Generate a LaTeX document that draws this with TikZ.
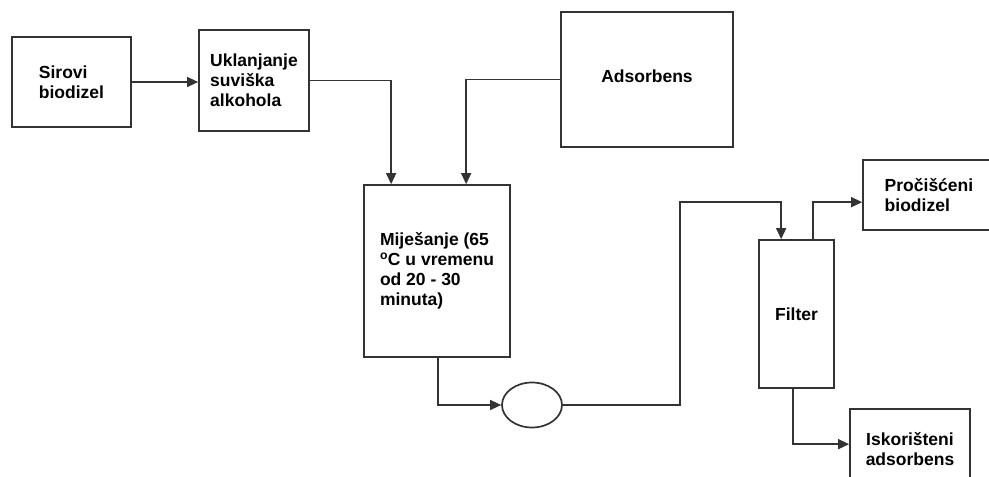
\documentclass[tikz,border=0pt]{standalone}
\usepackage{fontspec}
\setmainfont{Liberation Sans}
\usetikzlibrary{arrows.meta,shapes.geometric}
\definecolor{ln}{HTML}{333333}
\begin{document}
\begin{tikzpicture}[x=1pt,y=-1pt,
  box/.style={draw=ln,line width=1.7pt,rectangle,inner sep=0pt,align=left,
    font=\fontsize{17.5}{20}\selectfont\bfseries},
  arr/.style={draw=ln,line width=1.4pt,-{Triangle[length=11pt,width=10pt]}}]
\useasboundingbox (0,0) rectangle (989,477);
\node[box,minimum width=119pt,minimum height=90pt] (sir) at (71.5,82) {Sirovi\\biodizel};
\node[box,minimum width=110pt,minimum height=101pt] (ukl) at (254,80.5) {Uklanjanje\\suviška\\alkohola};
\node[box,minimum width=172pt,minimum height=135pt] (ads) at (647,79.5) {\raisebox{7pt}{Adsorbens}};
\node[box,minimum width=146pt,minimum height=172pt] (mix) at (437,271) {Miješanje (65\\\textsuperscript{o}C u vremenu\\od 20 - 30\\minuta)};
\node[draw=ln,line width=1.7pt,ellipse,minimum width=60pt,minimum height=45pt,inner sep=0pt] (pump) at (532,405) {};
\node[box,minimum width=75pt,minimum height=148pt] (filt) at (796.5,314) {Filter};
\node[box,minimum width=132pt,minimum height=70pt] (pro) at (929,195) {Pročišćeni\\biodizel};
\node[box,minimum width=120pt,minimum height=84pt] (isk) at (910,451) {\raisebox{6pt}{\begin{tabular}{@{}c@{}}Iskorišteni\\adsorbens\end{tabular}}};
\coordinate (c1) at (680,202);
\draw[arr] (sir.east) -- (sir.east -| ukl.west);
\draw[arr] (ukl.east) -| ([xshift=28]mix.north west);
\draw[arr] (ads.west) -| ([xshift=103]mix.north west);
\draw[arr] ([xshift=75]mix.south west) |- (pump.west);
\draw[arr] (pump.east) -| (c1) -| ([xshift=23]filt.north west);
\draw[arr] ([xshift=55]filt.north west) |- ([yshift=-43]pro.north west);
\draw[arr] ([xshift=35]filt.south west) |- ([yshift=-36]isk.north west);
\end{tikzpicture}
\end{document}
